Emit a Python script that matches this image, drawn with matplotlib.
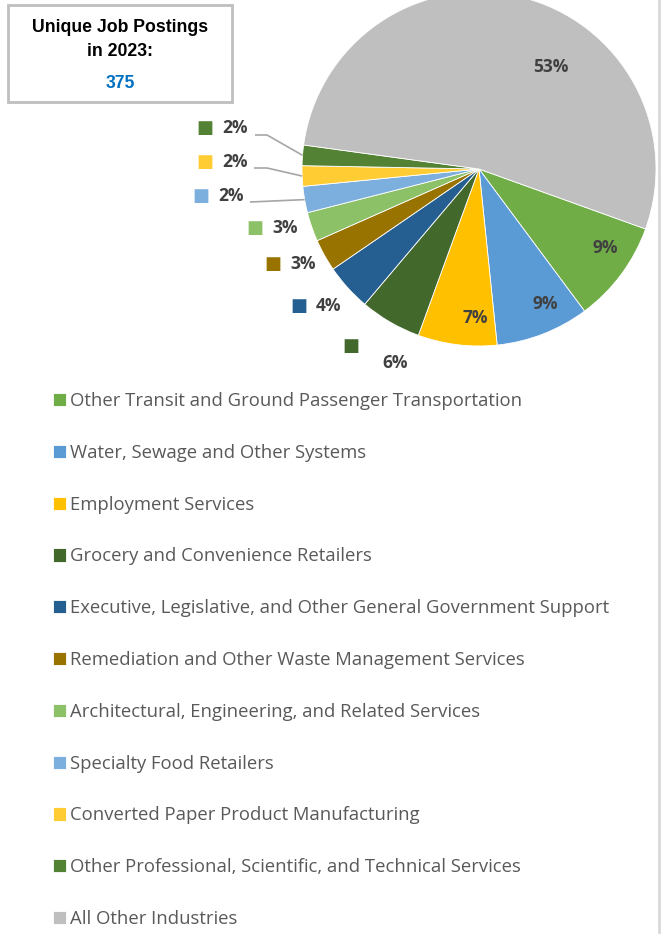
import matplotlib.pyplot as plt
import numpy as np
from matplotlib.patches import Rectangle

# data (counts out of 375 postings)
industries = [
    "Other Transit and Ground Passenger Transportation",
    "Water, Sewage and Other Systems",
    "Employment Services",
    "Grocery and Convenience Retailers",
    "Executive, Legislative, and Other General Government Support",
    "Remediation and Other Waste Management Services",
    "Architectural, Engineering, and Related Services",
    "Specialty Food Retailers",
    "Converted Paper Product Manufacturing",
    "Other Professional, Scientific, and Technical Services",
    "All Other Industries",
]
postings = [35, 32, 27, 21, 16, 11, 10, 9, 7, 7, 200]
total_postings = 375
colors = ["#70ad47", "#5b9bd5", "#ffc000", "#43682b", "#255e91", "#997300",
          "#8cc168", "#7cafdd", "#ffcd33", "#548235", "#bfbfbf"]

TXT = "#404040"

fig = plt.figure(figsize=(6.65, 9.34), dpi=100)
ax = fig.add_axes([0, 0, 1, 1])

# pixel-like coordinates, y pointing down -> angles mirror, so go ccw in data
cx, cy, R = 479, 169, 177
wedges, _ = ax.pie(postings, colors=colors, center=(cx, cy), radius=R,
                   startangle=19.8, counterclock=True,
                   wedgeprops=dict(edgecolor="white", linewidth=0.6))
ax.set_xlim(0, 665)
ax.set_ylim(934, 0)
ax.set_aspect("equal")
ax.axis("off")

pcts = [f"{round(100 * v / total_postings)}%" for v in postings]

# labels inside the big slices
inside = {0: (605, 248), 1: (545, 304), 2: (475, 318), 10: (551, 67)}
for i, (x, y) in inside.items():
    ax.text(x, y, pcts[i], ha="center", va="center", fontsize=12.5,
            fontweight="bold", color=TXT, family="Open Sans")

# labels outside, with a colour key square
outside = {3: ((351, 346), (382, 363)), 4: ((299, 306), (316, 306)),
           5: ((273, 264), (290, 264)), 6: ((255, 228), (272, 228)),
           7: ((201, 196), (218, 196)), 8: ((205, 162), (222, 162)),
           9: ((205, 128), (222, 128))}
for i, ((sx, sy), (tx, ty)) in outside.items():
    ax.text(sx, sy, "\u25a0", ha="center", va="center", fontsize=13,
            color=colors[i], family="DejaVu Sans")
    ax.text(tx, ty, pcts[i], ha="left", va="center", fontsize=12.5,
            fontweight="bold", color=TXT, family="Open Sans")

# leader lines for the three 2% slices
leaders = {9: [(255, 135), (267, 135)], 8: [(254, 168), (267, 168)], 7: [(250, 202)]}
for i, pts in leaders.items():
    w = wedges[i]
    mid = np.deg2rad((w.theta1 + w.theta2) / 2)
    end = (cx + R * np.cos(mid), cy + R * np.sin(mid))
    xs = [p[0] for p in pts] + [end[0]]
    ys = [p[1] for p in pts] + [end[1]]
    ax.plot(xs, ys, color="#a6a6a6", lw=1.2, solid_capstyle="butt")

# info box
ax.add_patch(Rectangle((8, 5), 224, 97, fill=False, edgecolor="#bfbfbf", lw=2))
ax.text(120, 28, "Unique Job Postings", ha="center", va="center", fontsize=12.7,
        fontweight="bold", color="black", family="Liberation Sans")
ax.text(120, 51, "in 2023:", ha="center", va="center", fontsize=12.7,
        fontweight="bold", color="black", family="Liberation Sans")
ax.text(120, 84, str(total_postings), ha="center", va="center", fontsize=12.7,
        fontweight="bold", color="#0070c0", family="Liberation Sans")

# right border line
ax.axvline(659, color="#d9d9d9", lw=2)

leg = ax.legend(wedges, industries, loc="upper left", bbox_to_anchor=(53, 392),
                bbox_transform=ax.transData, frameon=False, borderpad=0,
                borderaxespad=0, handlelength=0.72, handleheight=0.72,
                handletextpad=0.22, labelspacing=1.83,
                prop={"family": "Open Sans", "size": 13.3}, labelcolor="#595959")

fig.savefig("out.png", dpi=100)
